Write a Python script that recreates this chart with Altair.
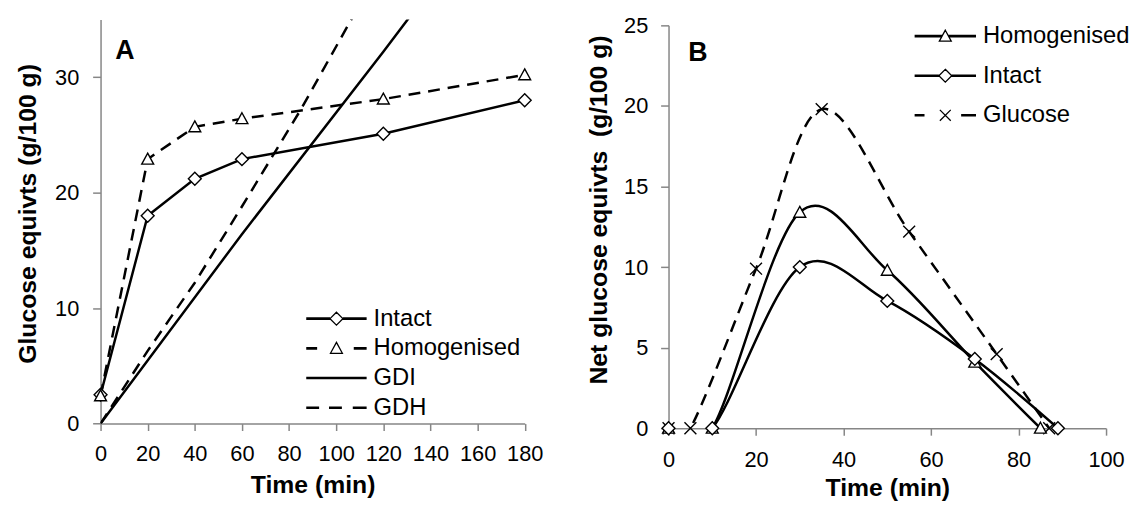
import altair as alt
import pandas as pd

FONT = "Liberation Sans"

# ---------------- Panel A data ----------------
a_time = [0, 20, 40, 60, 120, 180]
a_intact = [2.5, 18.0, 21.2, 22.9, 25.1, 28.0]
a_homog = [2.4, 22.9, 25.7, 26.4, 28.1, 30.2]
a_gdi_time = [0, 60, 120, 140]
a_gdi = [0, 16.4, 32.2, 37.6]
a_gdh_time = [0, 20, 40, 60, 85, 110]
a_gdh = [0, 6.3, 12.2, 18.8, 27.2, 36.3]
a_xticks = [0, 20, 40, 60, 80, 100, 120, 140, 160, 180]
a_yticks = [0, 10, 20, 30]
a_legend = ["Intact", "Homogenised", "GDI", "GDH"]
a_label = ["A"]
a_label_x = [6.2]
a_label_y = [31.6]

# ---------------- Panel B data ----------------
b_homog_time = [0, 10, 30, 50, 70, 85]
b_homog = [0, 0, 13.4, 9.8, 4.1, 0]
b_intact_time = [0, 10, 30, 50, 70, 89]
b_intact = [0, 0, 10.0, 7.9, 4.3, 0]
b_gluc_time = [0, 5, 20, 35, 55, 75, 87]
b_gluc = [0, 0, 9.9, 19.8, 12.2, 4.6, 0]
b_xticks = [0, 20, 40, 60, 80, 100]
b_yticks = [0, 5, 10, 15, 20, 25]
b_legend = ["Homogenised", "Intact", "Glucose"]
b_label = ["B"]
b_label_x = [4.5]
b_label_y = [22.8]


def long_df(xs, ys, name):
    return pd.DataFrame({"time": xs, "value": ys, "series": name})


# marker shapes (unit box)
DIAMOND = "M0,-1L1,0L0,1L-1,0Z"
TRIANGLE = "M0,-1L1,0.83L-1,0.83Z"
XMARK = "M-1,-1L1,1M-1,1L1,-1"

SYM = 100           # legend symbol size -> path unit = sqrt(SYM)/2 = 5 px
U = 5.0


def P(cmds):
    return "".join(f"{op}{x / U:.3f},{y / U:.3f}" for op, x, y in cmds)


def thick(x1, x2):
    return P([("M", x1, -0.65), ("L", x2, -0.65), ("M", x1, 0.65), ("L", x2, 0.65)])


def diamond(cx, h):
    return P([("M", cx, -h), ("L", cx + h, 0), ("L", cx, h), ("L", cx - h, 0)]) + "Z"


def tri(cx, h):
    return P([("M", cx, -h), ("L", cx + h, h * 0.83), ("L", cx - h, h * 0.83)]) + "Z"


def xm(cx, h):
    return P([("M", cx - h, -h), ("L", cx + h, h), ("M", cx - h, h), ("L", cx + h, -h)])


# legend glyphs, right end at +5px
leg_a_paths = [
    thick(-56, -32) + diamond(-25.5, 6.5) + thick(-19, 5),
    thick(-56, -45) + tri(-25.5, 6) + thick(-8, 5),
    thick(-56, 5),
    thick(-56, -43) + thick(-33, -20) + thick(-9, 5),
]
leg_b_paths = [
    thick(-57, -29.3) + tri(-26, 6) + thick(-22.7, 5),
    thick(-57, -32.5) + diamond(-26, 6.5) + thick(-19.5, 5),
    thick(-57, -47) + xm(-26, 5.5) + thick(-10, 5),
]


def line_layer(df, enc, dash=None, interp="linear", clip=False):
    kw = dict(color="black", strokeWidth=2.5, interpolate=interp, clip=clip)
    if dash:
        kw["strokeDash"] = dash
    return alt.Chart(df).mark_line(**kw).encode(**enc)


def pts_layer(df, enc, shape, size):
    return alt.Chart(df).mark_point(
        shape=shape, size=size, filled=True, fill="white", stroke="black",
        strokeWidth=1.4, opacity=1
    ).encode(**enc)


def label_layer(txt, xs, ys, enc_x, enc_y):
    df = pd.DataFrame({"time": xs, "value": ys, "t": txt})
    return alt.Chart(df).mark_text(
        align="left", baseline="alphabetic", font=FONT, fontSize=27,
        fontWeight="bold", color="black"
    ).encode(x=enc_x, y=enc_y, text="t:N")


def legend_layer(names, paths, lx, ly, row_pad, enc):
    df = pd.DataFrame({"series": names, "time": [0] * len(names),
                       "value": [0] * len(names)})
    return alt.Chart(df).transform_filter(
        alt.datum.series == "__none__"
    ).mark_point().encode(
        x=enc["x"], y=enc["y"],
        shape=alt.Shape(
            "series:N",
            scale=alt.Scale(domain=names, range=paths),
            legend=alt.Legend(
                orient="none", legendX=lx, legendY=ly, title=None,
                direction="vertical", symbolSize=SYM, symbolStrokeWidth=1.3,
                symbolFillColor="white", symbolStrokeColor="black",
                symbolOpacity=1, labelFont=FONT, labelFontSize=24,
                labelColor="black", labelOffset=0, rowPadding=row_pad,
                padding=0, labelLimit=400,
            ),
        )
    )


LABEL_SIZE = 22
TITLE_SIZE = 25

# ---------------- Panel A ----------------
xA = alt.X("time:Q", scale=alt.Scale(domain=[0, 180], nice=False, zero=False),
           axis=alt.Axis(values=a_xticks, title="Time (min)", tickSize=7,
                         labelPadding=13, titlePadding=9, format="d",
                         labelFlush=False))
yA = alt.Y("value:Q", scale=alt.Scale(domain=[0, 35], nice=False),
           axis=alt.Axis(values=a_yticks, title="Glucose equivts (g/100 g)",
                         tickSize=8, labelPadding=14, titlePadding=14, format="d",
                         labelFlush=False, titleY=196))
encA = dict(x=xA, y=yA)

dA_int = long_df(a_time, a_intact, "Intact")
dA_hom = long_df(a_time, a_homog, "Homogenised")
dA_gdi = long_df(a_gdi_time, a_gdi, "GDI")
dA_gdh = long_df(a_gdh_time, a_gdh, "GDH")

chartA = alt.layer(
    line_layer(dA_gdh, encA, dash=[12, 8], clip=True),
    line_layer(dA_gdi, encA, clip=True),
    line_layer(dA_int, encA),
    line_layer(dA_hom, encA, dash=[12, 8]),
    pts_layer(dA_int, encA, DIAMOND, 169),
    pts_layer(dA_hom, encA, TRIANGLE, 144),
    label_layer(a_label, a_label_x, a_label_y, xA, yA),
    legend_layer(a_legend, leg_a_paths, 251.8, 290.3, 6, encA),
).properties(width=428.5, height=408.3)

# ---------------- Panel B ----------------
xB = alt.X("time:Q", scale=alt.Scale(domain=[0, 100], nice=False, zero=False),
           axis=alt.Axis(values=b_xticks, title="Time (min)", tickSize=7,
                         labelPadding=15, titlePadding=5, format="d",
                         labelFlush=False))
yB = alt.Y("value:Q", scale=alt.Scale(domain=[0, 25], nice=False),
           axis=alt.Axis(values=b_yticks, title="Net glucose equivts\u00a0 (g/100 g)",
                         tickSize=8, labelPadding=13, titlePadding=12, format="d",
                         labelFlush=False, titleY=186))
encB = dict(x=xB, y=yB)

dB_hom = long_df(b_homog_time, b_homog, "Homogenised")
dB_int = long_df(b_intact_time, b_intact, "Intact")
dB_glu = long_df(b_gluc_time, b_gluc, "Glucose")

chartB = alt.layer(
    line_layer(dB_glu, encB, dash=[12, 8], interp="cardinal", clip=True),
    pts_layer(dB_glu, encB, XMARK, 144),
    line_layer(dB_hom, encB, interp="cardinal", clip=True),
    line_layer(dB_int, encB, interp="cardinal", clip=True),
    pts_layer(dB_hom, encB, TRIANGLE, 144),
    pts_layer(dB_int, encB, DIAMOND, 169),
    label_layer(b_label, b_label_x, b_label_y, xB, yB),
    legend_layer(b_legend, leg_b_paths, 293.6, 4.9, 16, encB),
).properties(width=442, height=407)

spacer = alt.Chart(pd.DataFrame({"s": [0]})).mark_point(opacity=0).properties(
    width=442, height=1)

colB = alt.vconcat(spacer, chartB, spacing=5, bounds="flush")

chart = alt.hconcat(chartA, colB, spacing=144.8, bounds="flush").resolve_scale(
    shape="independent"
).resolve_legend(shape="independent").properties(
    padding={"left": 7.5, "top": 4, "right": 0, "bottom": 0}
).configure_view(stroke=None).configure_axis(
    domainColor="#868686", tickColor="#868686", domainWidth=1.5, tickWidth=1.5,
    labelFont=FONT, labelFontSize=LABEL_SIZE, labelColor="black", labelOverlap=False,
    titleFont=FONT, titleFontSize=TITLE_SIZE, titleFontWeight="bold", titleColor="black",
    grid=False,
)

chart.save("out.html", embed_options={"renderer": "svg", "actions": False})
